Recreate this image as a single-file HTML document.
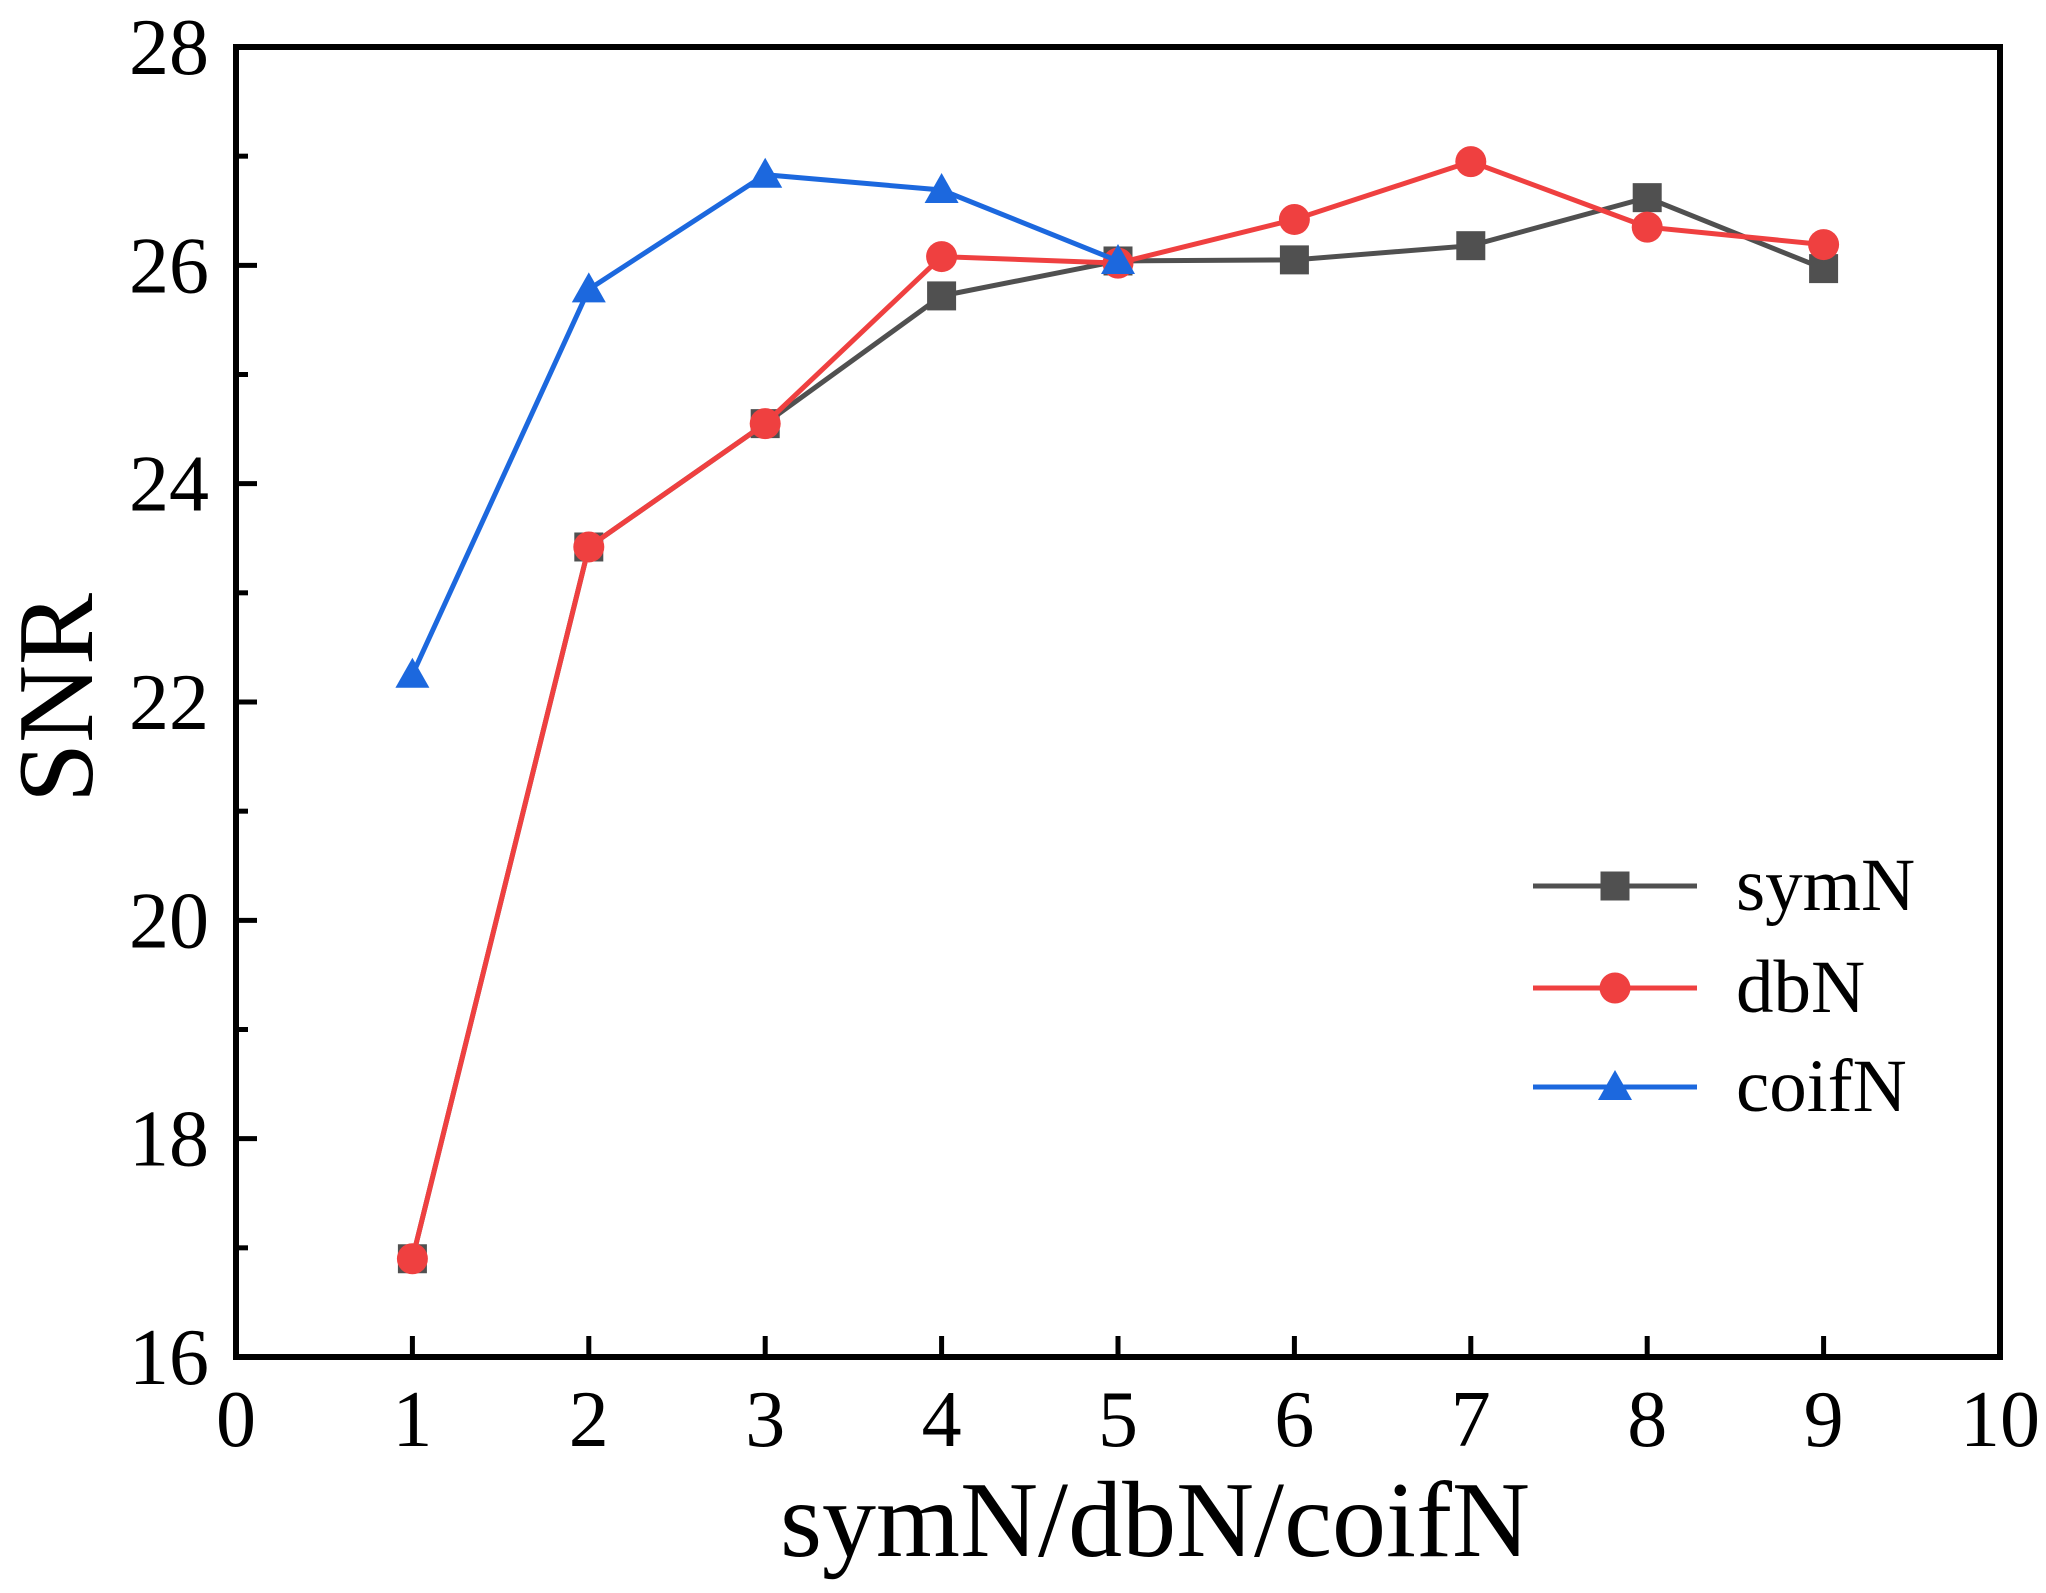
<!DOCTYPE html>
<html><head><meta charset="utf-8"><style>
html,body{margin:0;padding:0;background:#fff;}
svg{display:block;font-family:"Liberation Serif",serif;}
</style></head><body>
<svg id="chart" width="2046" height="1593" viewBox="0 0 2046 1593" xmlns="http://www.w3.org/2000/svg"></svg>
<script>
const xTicks=[0,1,2,3,4,5,6,7,8,9,10];
const yTicks=[16,18,20,22,24,26,28];
const symX=[1,2,3,4,5,6,7,8,9];
const symN=[16.9,23.42,24.55,25.72,26.04,26.05,26.18,26.62,25.97];
const dbX=[1,2,3,4,5,6,7,8,9];
const dbN=[16.9,23.42,24.55,26.08,26.02,26.42,26.95,26.35,26.19];
const coifX=[1,2,3,4,5];
const coifN=[22.25,25.78,26.83,26.69,26.04];
const L=236,R=2000,T=47,B=1357;
const sx=v=>L+(v-0)/(10-0)*(R-L);
const sy=v=>B-(v-16)/(28-16)*(B-T);
const svg=document.getElementById('chart');
const NS='http://www.w3.org/2000/svg';
function mk(tag,attrs,parent){const e=document.createElementNS(NS,tag);for(const k in attrs)e.setAttribute(k,attrs[k]);(parent||svg).appendChild(e);return e;}
const tg=mk('g',{});


xTicks.forEach(v=>{
  if(v>0&&v<10){mk('line',{x1:sx(v),x2:sx(v),y1:B,y2:B-21,stroke:'#000','stroke-width':5},tg);}
  const t=mk('text',{x:sx(v),y:1446,'font-size':80,'text-anchor':'middle',fill:'#000'});
  t.textContent=v;
  
  
});
for(let v=17;v<28;v++){mk('line',{x1:L,x2:L+(v%2?12:21),y1:sy(v),y2:sy(v),stroke:'#000','stroke-width':5},tg);}
yTicks.forEach(v=>{
  const t=mk('text',{x:209,y:sy(v)+27,'font-size':80,'text-anchor':'end',fill:'#000'});
  t.textContent=v;
  
  
});
const frame=mk('rect',{x:L,y:T,width:R-L,height:B-T,fill:'none',stroke:'#000','stroke-width':6});


function marker(shape,x,y,color,parent){
  if(shape==='sq')return mk('rect',{x:x-14.5,y:y-14.5,width:29,height:29,fill:color},parent);
  if(shape==='ci')return mk('circle',{cx:x,cy:y,r:15.5,fill:color},parent);
  return mk('polygon',{points:`${x},${y-17} ${x-17},${y+13} ${x+17},${y+13}`,fill:color},parent);
}
function series(name,xs,ys,color,shape){
  const g=mk('g',{});
  
  
  mk('polyline',{points:xs.map((x,i)=>sx(x)+','+sy(ys[i])).join(' '),fill:'none',stroke:color,'stroke-width':5},g);
  xs.forEach((x,i)=>{const m=marker(shape,sx(x),sy(ys[i]),color,g);
    
    });
}
series('symN',symX,symN,'#505050','sq');
series('dbN',dbX,dbN,'#ef4040','ci');
series('coifN',coifX,coifN,'#1c68de','tr');
const lg=mk('g',{});


[['symN','#505050','sq',886],['dbN','#ef4040','ci',988],['coifN','#1c68de','tr',1087]].forEach(([n,c,s,y])=>{
  const e=mk('g',{},lg);
  
  
  mk('line',{x1:1533,x2:1697,y1:y,y2:y,stroke:c,'stroke-width':5},e);
  marker(s,1615,y,c,e);
  const t=mk('text',{x:1736,y:y+24,'font-size':75,fill:'#000'},e);t.textContent=n;
});
const xt=mk('text',{x:1155,y:1556,'font-size':108,'text-anchor':'middle',fill:'#000'});
xt.textContent='symN/dbN/coifN';


const yt=mk('text',{x:0,y:0,'font-size':108,'text-anchor':'middle',fill:'#000',transform:'translate(92,698) rotate(-90)'});
yt.textContent='SNR';


</script>
</body></html>
